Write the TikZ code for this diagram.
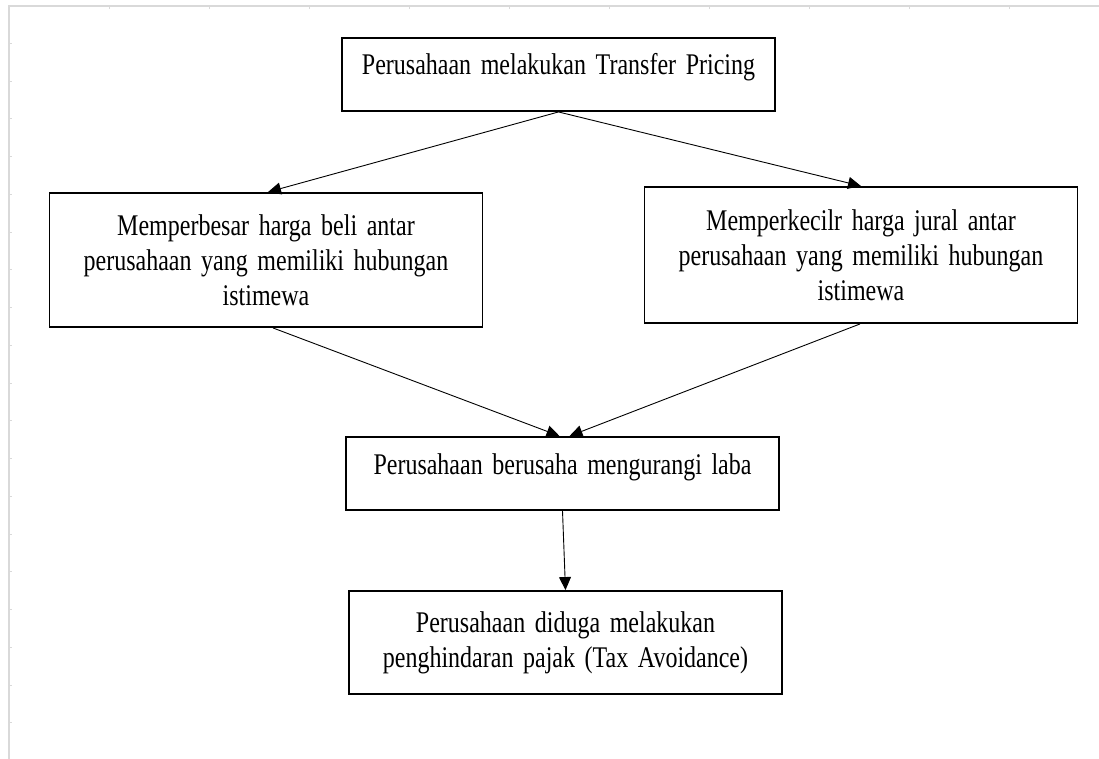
\documentclass[tikz,border=0pt]{standalone}
\usepackage{fontspec}
\setmainfont{Liberation Serif}[FakeStretch=0.8,WordSpace=1.6]
\usetikzlibrary{arrows.meta}

\begin{document}
\begin{tikzpicture}[x=1pt,y=-1pt,
 kotak/.style={draw,line width=1.9pt,minimum width=433pt,align=center,
  font=\fontsize{30}{35}\selectfont},
 satubaris/.style={minimum height=73pt,inner ysep=0pt,text height=37pt,text depth=36pt},
 panah/.style={-{Triangle[length=13pt,width=12pt]},line width=0.9pt}]
\useasboundingbox (0,0) rectangle (1099,759);
% bingkai abu-abu
\draw[black!15,line width=1.2pt] (9,759)--(9,6)--(1099,6);
\foreach \y in {0,...,18} \draw[black!15] (9,43+37.75*\y)--++(3,0);
\foreach \x in {0,...,9} \draw[black!15] (109+100*\x,6)--++(0,3);
% kotak
\node[kotak,satubaris] (transfer) at (558.5,74.5) {Perusahaan melakukan Transfer Pricing};
\node[kotak,minimum height=134pt] (beli) at (266,260) {Memperbesar harga beli antar\\perusahaan yang memiliki hubungan\\istimewa};
\node[kotak,minimum height=136pt] (jual) at (861,255) {Memperkecilr harga jural antar\\perusahaan yang memiliki hubungan\\istimewa};
\node[kotak,satubaris] (laba) at (562.5,473.5) {Perusahaan berusaha mengurangi laba};
\node[kotak,minimum height=103pt] (pajak) at (565.5,642.5) {Perusahaan diduga melakukan\\penghindaran pajak (Tax Avoidance)};
% panah
\draw[panah] (transfer.south) -- ([xshift=2pt]beli.north);
\draw[panah] (transfer.south) -- (jual.north);
\draw[panah] ([xshift=7pt]beli.south) -- ([xshift=-3pt]laba.north);
\draw[panah] ([xshift=-1pt]jual.south) -- ([xshift=7pt]laba.north);
\draw[panah] (laba.south) -- (pajak.north);
\end{tikzpicture}
\end{document}
